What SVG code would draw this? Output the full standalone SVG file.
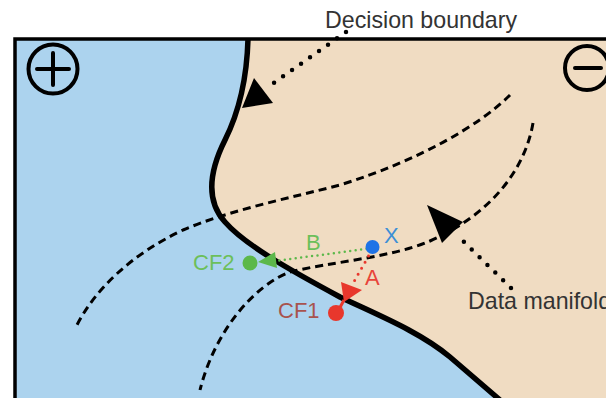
<svg xmlns="http://www.w3.org/2000/svg" width="606" height="398" viewBox="0 0 606 398">
  <style>
    .lbl { font-family: "Liberation Sans", Arial, sans-serif; font-size: 22px; }
    .big { font-size: 23.2px; }
    .manifold { fill: none; stroke: #000; stroke-width: 3; stroke-dasharray: 8 5; }
    .pointer { fill: none; stroke: #000; stroke-width: 4.5; stroke-linecap: round; stroke-dasharray: 0 11; }
    .sign { fill: none; stroke: #000; stroke-width: 4; stroke-linecap: round; }
  </style>
  <rect x="0" y="0" width="606" height="398" fill="#ffffff"/>

  <!-- classes: negative region (beige) and positive region (blue) -->
  <g id="regions">
    <rect x="15" y="39" width="600" height="370" fill="#f0dcc2"/>
    <path d="M15,39 L248,39 C247,75 240,110 225,140 C210,170 205,200 225,222 C245,245 290,270 340,297 C380,316 420,332 450,357 L500,400 L15,400 Z" fill="#acd3ee"/>
  </g>

  <!-- frame -->
  <g id="frame">
    <path d="M15,400 L15,39 L606,39" fill="none" stroke="#000" stroke-width="3.5"/>
  </g>

  <g id="boundary">
    <path d="M248,39 C247,75 240,110 225,140 C210,170 205,200 225,222 C245,245 290,270 340,297 C380,316 420,332 450,357 L500,400" fill="none" stroke="#000" stroke-width="5.5"/>
  </g>

  <g id="manifolds">
    <path class="manifold" d="M510,95 C480,125 420,160 340,185 C290,198 230,210 183,230 C130,255 95,290 77,325"/>
    <path class="manifold" d="M533,123 C525,170 490,215 430,241 C390,258 330,262 290,272 C255,285 215,330 200,390"/>
  </g>

  <g id="plus">
    <circle class="sign" cx="53" cy="69" r="24.5"/>
    <path class="sign" d="M37,69 H69 M53,53 V85"/>
  </g>
  <g id="minus">
    <circle class="sign" cx="587" cy="68" r="22"/>
    <path class="sign" d="M575,68 H601"/>
  </g>

  <g id="decision-label">
    <text class="lbl big" x="325" y="28" fill="#333">Decision boundary</text>
  </g>
  <g id="manifold-label">
    <text class="lbl big" x="468" y="309" fill="#333">Data manifold</text>
  </g>

  <g id="connectors">
    <!-- pointer to the decision boundary -->
    <path class="pointer" d="M346,32 L268,87"/>
    <polygon points="254,78 273,103 242,108" fill="#000"/>
    <!-- pointer to the data manifold -->
    <path class="pointer" d="M511,288 L460,238"/>
    <polygon points="427,205 463,222 442,243" fill="#000"/>
    <!-- path B: X to CF2 -->
    <path d="M372,248 L276,261" fill="none" stroke="#5cb84a" stroke-width="2.5" stroke-linecap="round" stroke-dasharray="0 5.5"/>
    <polygon points="258,262 275,252 277,268" fill="#5cb84a"/>
    <!-- path A: X to CF1 -->
    <path d="M372,250 L352,285" fill="none" stroke="#e8372c" stroke-width="3" stroke-linecap="round" stroke-dasharray="0 7"/>
    <polygon points="341,282 362,290 344,302" fill="#e8372c"/>
    <path d="M344,300 L337,313" stroke="#e8372c" stroke-width="3"/>
  </g>

  <g id="x">
    <circle cx="372.5" cy="247" r="7" fill="#1f73e6"/>
    <text class="lbl" x="384" y="243" fill="#3d8fd6">X</text>
  </g>
  <g id="cf2">
    <circle cx="250" cy="263" r="7.5" fill="#5cb84a"/>
    <text class="lbl" x="193" y="270" fill="#6cbf5a">CF2</text>
  </g>
  <g id="cf1">
    <circle cx="336" cy="313" r="8" fill="#e8372c"/>
    <text class="lbl" x="278" y="318" fill="#a8534e">CF1</text>
  </g>
  <g id="labels">
    <text class="lbl" x="306" y="250" fill="#6cbf5a">B</text>
    <text class="lbl" x="365" y="285" fill="#e8443a">A</text>
  </g>
</svg>
